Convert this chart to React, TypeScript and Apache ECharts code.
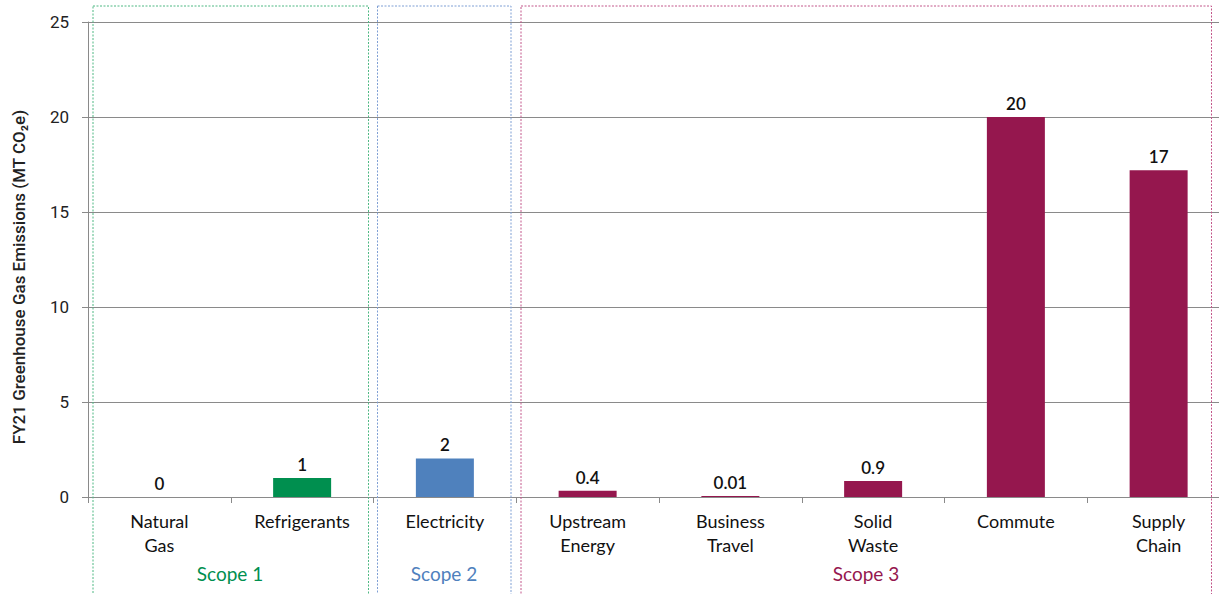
import React, { useEffect, useRef } from "react";
import * as echarts from "echarts";

const categories = [
  "Natural\nGas",
  "Refrigerants",
  "Electricity",
  "Upstream\nEnergy",
  "Business\nTravel",
  "Solid\nWaste",
  "Commute",
  "Supply\nChain",
];
const values = [0, 1.0, 2.03, 0.33, 0.05, 0.84, 20, 17.2];
const valueLabels = ["0", "1", "2", "0.4", "0.01", "0.9", "20", "17"];
const categoryScopes = [1, 1, 2, 3, 3, 3, 3, 3];
const scopeNames = ["Scope 1", "Scope 2", "Scope 3"];
const yTicks = [0, 5, 10, 15, 20, 25];
const yTitle = "FY21 Greenhouse Gas Emissions (MT CO₂e)";

const scopeColors: Record<number, string> = { 1: "#008f4f", 2: "#4f81bd", 3: "#95174e" };
const boxColors: Record<number, string> = { 1: "#4fb883", 2: "#7f9fd4", 3: "#c2568a" };
const FONT = "Lato, 'Noto Sans', sans-serif";

export default function App() {
  const ref = useRef<HTMLDivElement>(null);
  useEffect(() => {
    if (!ref.current) return;
    const chart = echarts.init(ref.current, undefined, { renderer: "svg" });
    const boxes = [
      { scope: 1, x0: 93, x1: 368.5, cx: 230 },
      { scope: 2, x0: 377.5, x1: 511, cx: 444 },
      { scope: 3, x0: 521, x1: 1211.5, cx: 866 },
    ];
    const graphic: any[] = [];
    boxes.forEach((b) => {
      graphic.push({
        type: "rect",
        silent: true,
        z: 1,
        shape: { x: b.x0, y: 6, width: b.x1 - b.x0, height: 620 },
        style: { fill: "none", stroke: boxColors[b.scope], lineWidth: 1, lineDash: [2, 1.5] },
      });
      graphic.push({
        type: "text",
        silent: true,
        x: b.cx,
        y: 573,
        style: {
          text: scopeNames[b.scope - 1],
          fill: scopeColors[b.scope],
          font: `19px ${FONT}`,
          align: "center",
          verticalAlign: "middle",
        },
      });
    });
    graphic.push({
      type: "text",
      silent: true,
      x: 19,
      y: 277,
      rotation: Math.PI / 2,
      style: {
        text: yTitle,
        fill: "#222",
        font: "500 17px Roboto, sans-serif",
        align: "center",
        verticalAlign: "middle",
      },
    });
    chart.setOption({
      animation: false,
      grid: { left: 88, right: 10, top: 22, bottom: 97 },
      graphic,
      xAxis: {
        type: "category",
        data: categories,
        axisLine: { lineStyle: { color: "#8a8a8a", width: 1 } },
        axisTick: { show: true, length: 6, lineStyle: { color: "#8a8a8a" } },
        axisLabel: {
          color: "#111",
          fontFamily: FONT,
          fontSize: 18,
          lineHeight: 24,
          margin: 12,
          interval: 0,
        },
      },
      yAxis: {
        type: "value",
        min: 0,
        max: yTicks[yTicks.length - 1],
        interval: yTicks[1] - yTicks[0],
        axisLine: { show: true, lineStyle: { color: "#8a8a8a" } },
        axisTick: { show: true, length: 6, lineStyle: { color: "#8a8a8a" } },
        splitLine: { lineStyle: { color: "#8a8a8a", width: 1 } },
        axisLabel: { color: "#222", fontFamily: "Roboto, sans-serif", fontSize: 17, margin: 19 },
      },
      series: [
        {
          type: "bar",
          barWidth: 58,
          z: 3,
          data: values.map((v, i) => ({
            value: v,
            itemStyle: { color: scopeColors[categoryScopes[i]] },
          })),
          label: {
            show: true,
            position: "top",
            distance: 5,
            color: "#111",
            fontFamily: FONT,
            fontSize: 17,
            fontWeight: 600,
            formatter: (p: any) => valueLabels[p.dataIndex],
          },
        },
      ],
    });
    return () => chart.dispose();
  }, []);
  return (
    <div style={{ position: "fixed", left: 0, top: 0, width: 1219, height: 594, overflow: "hidden", background: "#fff" }}>
      <div ref={ref} style={{ width: 1240, height: 594 }} />
    </div>
  );
}
